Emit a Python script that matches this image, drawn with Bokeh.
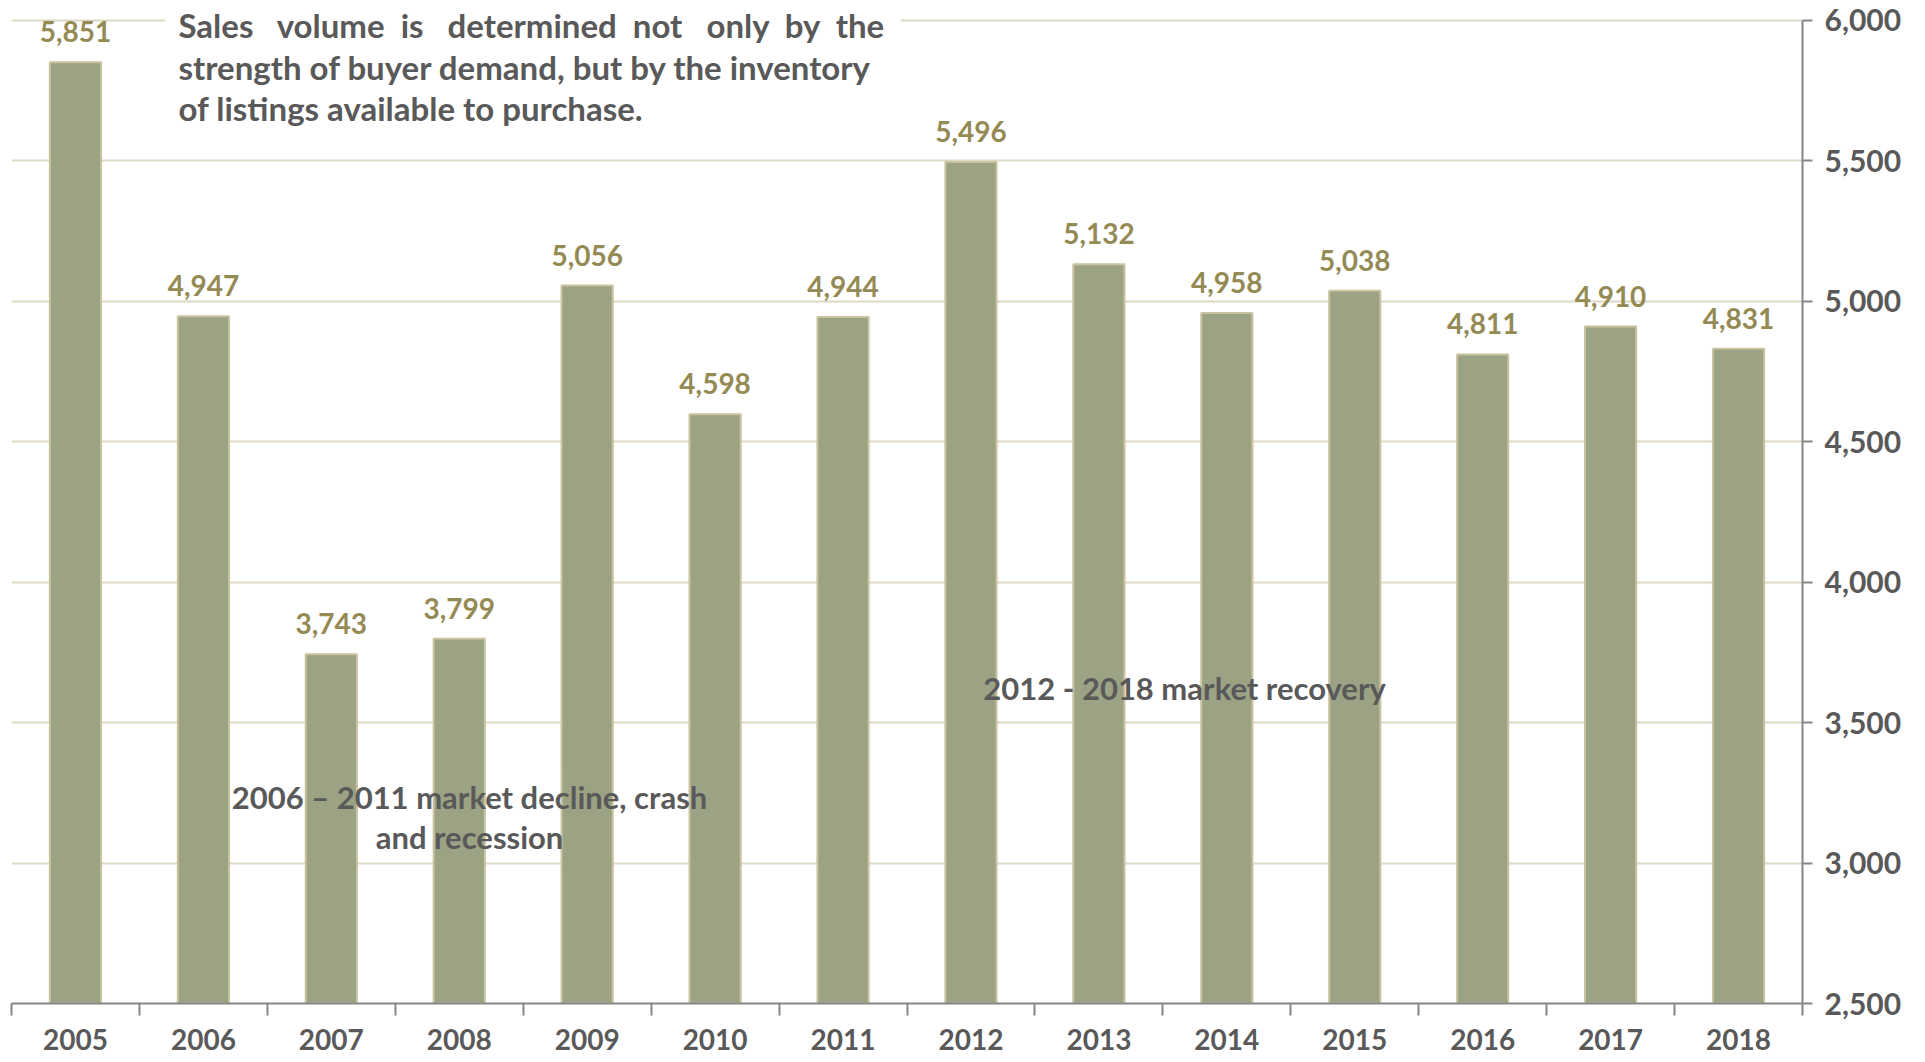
from bokeh.plotting import figure
from bokeh.models import (ColumnDataSource, FixedTicker, Range1d, LinearAxis,
                          NumeralTickFormatter, Label, BoxAnnotation, CustomJSTickFormatter)
from bokeh.embed import file_html
from bokeh.resources import INLINE
from bokeh.core.properties import value

years = ["2005", "2006", "2007", "2008", "2009", "2010", "2011",
         "2012", "2013", "2014", "2015", "2016", "2017", "2018"]
sales = [5851, 4947, 3743, 3799, 5056, 4598, 4944,
         5496, 5132, 4958, 5038, 4811, 4910, 4831]
y_ticks = [2500, 3000, 3500, 4000, 4500, 5000, 5500, 6000]

FONT = "Lato"
TXT = "#595959"
LBL = "#948a54"

xc = [i + 0.5 for i in range(len(years))]
labels = ["{:,}".format(v) for v in sales]
src = ColumnDataSource(dict(x=xc, top=sales, label=labels, year=years))

# frame runs to the top edge so the note text is not clipped; axis is bounded to 2,500-6,000
p = figure(width=1909, height=1054, output_backend="svg", toolbar_location=None,
           x_range=Range1d(0, len(years)), y_range=Range1d(2500, 6071),
           y_axis_location=None, x_axis_location=None,
           min_border_left=11, min_border_right=107, min_border_top=0, min_border_bottom=51)
p.outline_line_color = None
p.background_fill_color = "white"

# gridlines
p.xgrid.visible = False
p.ygrid.ticker = FixedTicker(ticks=y_ticks)
p.ygrid.grid_line_color = "#ddd9c3"
p.ygrid.grid_line_width = 2

# bars
p.vbar(x="x", top="top", bottom=2500, width=0.4, source=src,
       fill_color="#9ca385", line_color="#c9c29e", line_width=2)

# value labels
p.text(x="x", y="top", text="label", source=src, text_align="center",
       text_baseline="bottom", y_offset=-20, text_color=LBL,
       text_font=value(FONT), text_font_style="bold", text_font_size="28px")

# x axis
xaxis = LinearAxis(ticker=FixedTicker(ticks=xc, minor_ticks=list(range(len(years) + 1))))
xaxis.formatter = CustomJSTickFormatter(args=dict(years=years),
                                        code="return years[Math.floor(tick)];")
xaxis.axis_line_color = "#868686"
xaxis.axis_line_width = 2
xaxis.major_tick_line_color = None
xaxis.major_tick_out = 0
xaxis.major_tick_in = 0
xaxis.minor_tick_line_color = "#868686"
xaxis.minor_tick_line_width = 2
xaxis.minor_tick_out = 12
xaxis.minor_tick_in = 0
xaxis.major_label_text_font = FONT
xaxis.major_label_text_font_style = "bold"
xaxis.major_label_text_font_size = "28px"
xaxis.major_label_text_color = TXT
xaxis.major_label_standoff = 13
p.add_layout(xaxis, "below")

# y axis on right
yaxis = LinearAxis(ticker=FixedTicker(ticks=y_ticks), bounds=(2500, 6000))
yaxis.formatter = NumeralTickFormatter(format="0,0")
yaxis.axis_line_color = "#868686"
yaxis.axis_line_width = 2
yaxis.major_tick_line_color = "#868686"
yaxis.major_tick_line_width = 2
yaxis.major_tick_out = 10
yaxis.major_tick_in = 0
yaxis.minor_tick_line_color = None
yaxis.major_label_text_font = FONT
yaxis.major_label_text_font_style = "bold"
yaxis.major_label_text_font_size = "30px"
yaxis.major_label_text_color = TXT
yaxis.major_label_standoff = 12
p.add_layout(yaxis, "right")

# top note with white background (hides the 6,000 gridline behind it)
p.add_layout(BoxAnnotation(left=1.2, right=6.95, bottom=5610,
                           fill_color="white", fill_alpha=1.0, line_color=None,
                           level="annotation"))
note = ["Sales\u00a0\u00a0 volume\u00a0 is\u00a0\u00a0 determined\u00a0 not\u00a0\u00a0 only\u00a0 by\u00a0 the",
        "strength of buyer demand, but by the inventory",
        "of listings available to purchase."]
note_y = [5982, 5833, 5687]
for line, yy in zip(note, note_y):
    p.add_layout(Label(x=1.305, y=yy, text=line, text_font=FONT, text_font_style="bold",
                       text_font_size="33px", text_color=TXT,
                       text_baseline="middle", text_align="left"))

# period annotations
p.add_layout(Label(x=3.58, y=3236, text="2006 \u2013 2011 market decline, crash",
                   text_align="center", text_baseline="middle", text_font=FONT,
                   text_font_style="bold", text_font_size="31px", text_color=TXT))
p.add_layout(Label(x=3.58, y=3094, text="and recession",
                   text_align="center", text_baseline="middle", text_font=FONT,
                   text_font_style="bold", text_font_size="31px", text_color=TXT))
p.add_layout(Label(x=9.17, y=3623, text="2012 - 2018 market recovery",
                   text_align="center", text_baseline="middle", text_font=FONT,
                   text_font_style="bold", text_font_size="31px", text_color=TXT))

open("out.html", "w").write(file_html(p, INLINE))
